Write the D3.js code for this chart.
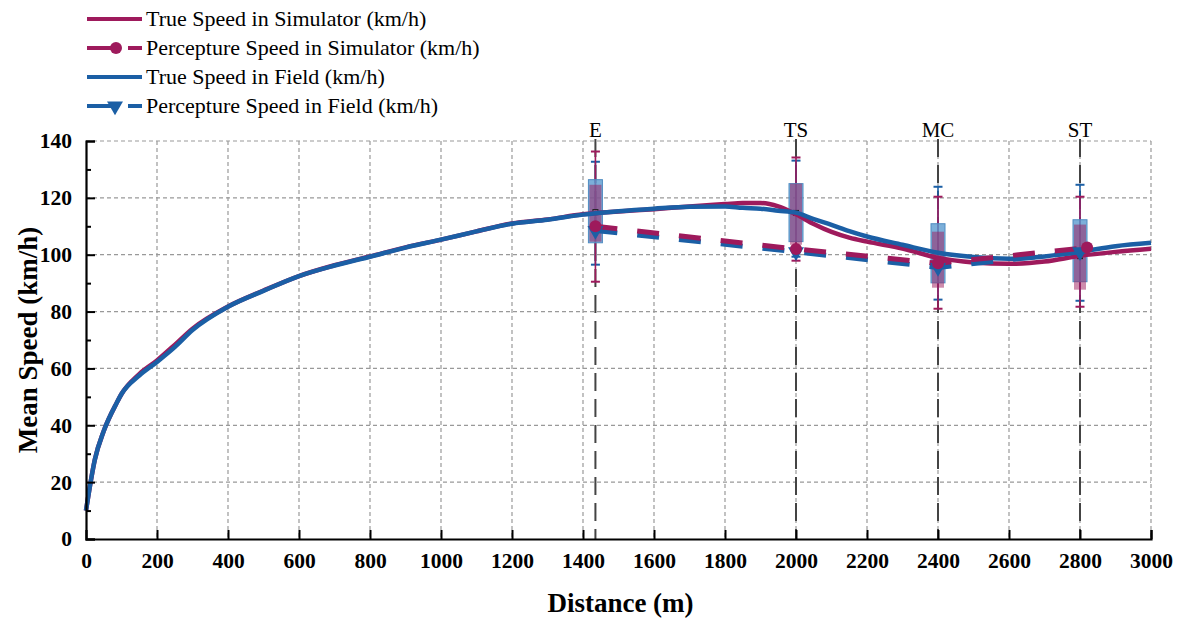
<!DOCTYPE html>
<html>
<head>
<meta charset="utf-8">
<script src="https://cdn.jsdelivr.net/npm/d3@7"></script>
<style>
    body { margin: 0; background: #fff; }
    svg text { font-family: "Liberation Serif", "Times New Roman", serif; fill: #000; }
    .tick-lab { font-size: 21.5px; font-weight: bold; }
    .axis-title { font-size: 27px; font-weight: bold; }
    .legend text { font-size: 22px; }
    .site { font-size: 21px; }
</style>
</head>
<body>
<svg width="1194" height="618"></svg>
<script>
// distance (m) along the road
var distance = [0, 25, 50, 87, 100, 150, 200, 250, 300, 400, 500, 600, 700, 800, 900, 1000,
    1100, 1200, 1300, 1400, 1500, 1600, 1700, 1800, 1850, 1900, 1950, 2000, 2050, 2100,
    2150, 2200, 2300, 2400, 2500, 2600, 2700, 2800, 2900, 3000];

var trueSim = [10, 28, 38, 48, 51, 58, 62.8, 68.3, 74, 81.8, 87.4, 92.5, 96.3, 99.4, 102.6, 105.3,
    108.2, 111, 112.4, 114.2, 115.2, 116, 117, 117.8, 118.2, 118.2, 117, 114.2, 110.8, 108,
    106, 104.6, 102.2, 98.9, 97.3, 96.8, 97.6, 99.6, 101, 102.1];

var trueField = [10, 28, 38, 48, 51, 57.5, 62.3, 67.5, 73.5, 81.7, 87.3, 92.5, 96.2, 99.3, 102.5, 105.3,
    108.2, 110.9, 112.3, 114.1, 115.3, 116.2, 116.9, 117, 116.5, 116.2, 115.5, 114.8, 112.5, 110.5,
    108.3, 106.4, 103.5, 100.7, 99.2, 98.6, 99.4, 101, 103, 104.2];

// survey sites
var sites = ["E", "TS", "MC", "ST"];
var siteDist = [1435, 2000, 2400, 2800];

var perceivedSim = [110, 102, 97, 102.5];
var perceivedField = [108.5, 101, 95.5, 101];
var perceivedSimDist = [1435, 2000, 2400, 2820];

// box stats per site: whisker low, q1, q3, whisker high
var boxSimLow = [90.5, 97.9, 81, 81.7];
var boxSimQ1 = [104.6, 103.5, 88.4, 87.7];
var boxSimQ3 = [124.6, 125, 108.1, 110.6];
var boxSimHigh = [136.3, 134.2, 120.4, 120.4];

var boxFieldLow = [96.5, 99.3, 84.2, 83.8];
var boxFieldQ1 = [104.2, 104.6, 90.1, 90.5];
var boxFieldQ3 = [126.4, 125, 110.9, 112.3];
var boxFieldHigh = [132.7, 133.1, 123.9, 124.6];

var boxMean = [115, 114.7, 98.3, 99.5];

var xTicks = d3.range(0, 3001, 200);
var yTicks = d3.range(0, 141, 20);

var legendLabels = ["True Speed in Simulator (km/h)", "Percepture Speed in Simulator (km/h)",
    "True Speed in Field (km/h)", "Percepture Speed in Field (km/h)"];

var colSim = "#9e1a5c";
var colField = "#1b5fa5";

var svg = d3.select("svg");
var mLeft = 86, mRight = 1151, mTop = 141, mBottom = 539;

var x = d3.scaleLinear().domain([0, 3000]).range([mLeft, mRight]);
var y = d3.scaleLinear().domain([0, 140]).range([mBottom, mTop]);

// grid
var grid = svg.append("g");
grid.selectAll(".gy").data(yTicks.filter(function (d) { return d > 0; }))
    .enter().append("line")
    .attr("x1", mLeft).attr("x2", mRight)
    .attr("y1", function (d) { return y(d); }).attr("y2", function (d) { return y(d); })
    .attr("stroke", "#999").attr("stroke-width", 1.2).attr("stroke-dasharray", "4,3");
grid.selectAll(".gx").data(xTicks.filter(function (d) { return d > 0; }))
    .enter().append("line")
    .attr("y1", mTop).attr("y2", mBottom)
    .attr("x1", function (d) { return x(d); }).attr("x2", function (d) { return x(d); })
    .attr("stroke", "#999").attr("stroke-width", 1.2).attr("stroke-dasharray", "4,3");

// site lines + labels
svg.selectAll(".siteLine").data(siteDist).enter().append("line")
    .attr("x1", function (d) { return x(d); }).attr("x2", function (d) { return x(d); })
    .attr("y1", mTop - 2).attr("y2", mBottom)
    .attr("stroke", "#444").attr("stroke-width", 2).attr("stroke-dasharray", "18,8");
svg.selectAll(".siteLab").data(sites).enter().append("text")
    .attr("class", "site")
    .attr("x", function (d, i) { return x(siteDist[i]); })
    .attr("y", mTop - 4)
    .attr("text-anchor", "middle")
    .text(function (d) { return d; });

// boxes
var bw = 14, bwSim = 12, capW = 9;
function whisker(lo, hi, col) {
    var g = svg.append("g");
    siteDist.forEach(function (d, i) {
        g.append("line").attr("x1", x(d)).attr("x2", x(d))
            .attr("y1", y(lo[i])).attr("y2", y(hi[i]))
            .attr("stroke", col).attr("stroke-width", 1.6);
        [lo[i], hi[i]].forEach(function (v) {
            g.append("line").attr("x1", x(d) - capW / 2).attr("x2", x(d) + capW / 2)
                .attr("y1", y(v)).attr("y2", y(v))
                .attr("stroke", col).attr("stroke-width", 2);
        });
    });
}
whisker(boxFieldLow, boxFieldHigh, colField);
whisker(boxSimLow, boxSimHigh, colSim);

svg.selectAll(".boxF").data(siteDist).enter().append("rect")
    .attr("x", function (d) { return x(d) - bw / 2; })
    .attr("width", bw)
    .attr("y", function (d, i) { return y(boxFieldQ3[i]); })
    .attr("height", function (d, i) { return y(boxFieldQ1[i]) - y(boxFieldQ3[i]); })
    .attr("fill", "#5b9bd0").attr("fill-opacity", 0.8)
    .attr("stroke", "#4f8cc2").attr("stroke-width", 1);
svg.selectAll(".boxS").data(siteDist).enter().append("rect")
    .attr("x", function (d) { return x(d) - bwSim / 2; })
    .attr("width", bwSim)
    .attr("y", function (d, i) { return y(boxSimQ3[i]); })
    .attr("height", function (d, i) { return y(boxSimQ1[i]) - y(boxSimQ3[i]); })
    .attr("fill", colSim).attr("fill-opacity", 0.5);
svg.selectAll(".mean").data(siteDist).enter().append("rect")
    .attr("x", function (d) { return x(d) - 2.5; })
    .attr("y", function (d, i) { return y(boxMean[i]) - 2.5; })
    .attr("width", 5).attr("height", 5)
    .attr("fill", "none").attr("stroke", "#222").attr("stroke-width", 1);

// true speed curves
var line = d3.line()
    .x(function (d, i) { return x(distance[i]); })
    .y(function (d) { return y(d); })
    .curve(d3.curveMonotoneX);
svg.append("path").datum(trueSim).attr("d", line)
    .attr("fill", "none").attr("stroke", colSim).attr("stroke-width", 4.5);
svg.append("path").datum(trueField).attr("d", line)
    .attr("fill", "none").attr("stroke", colField).attr("stroke-width", 4.5);

// perceived speed
var pLineSim = d3.line()
    .x(function (d, i) { return x(perceivedSimDist[i]); })
    .y(function (d) { return y(d); });
var pLineField = d3.line()
    .x(function (d, i) { return x(siteDist[i]); })
    .y(function (d) { return y(d); });
svg.append("path").datum(perceivedField).attr("d", pLineField)
    .attr("fill", "none").attr("stroke", colField).attr("stroke-width", 5)
    .attr("stroke-dasharray", "22,20");
svg.append("path").datum(perceivedSim).attr("d", pLineSim)
    .attr("fill", "none").attr("stroke", colSim).attr("stroke-width", 5)
    .attr("stroke-dasharray", "22,20");

var tri = d3.symbol().type(d3.symbolTriangle).size(110);
svg.selectAll(".triF").data(perceivedField).enter().append("path")
    .attr("d", tri)
    .attr("transform", function (d, i) { return "translate(" + x(siteDist[i]) + "," + y(d) + ") rotate(180)"; })
    .attr("fill", colField);
svg.selectAll(".dotS").data(perceivedSim).enter().append("circle")
    .attr("cx", function (d, i) { return x(perceivedSimDist[i]); })
    .attr("cy", function (d) { return y(d); })
    .attr("r", 6).attr("fill", colSim);

// axes
var yAxis = d3.axisLeft(y).tickValues(yTicks).tickSize(-9).tickPadding(14).tickFormat(d3.format("d"));
var yMinor = d3.axisLeft(y).tickValues(d3.range(10, 140, 20)).tickSize(-5).tickFormat("");
var xAxis = d3.axisBottom(x).tickValues(xTicks).tickSize(-9).tickPadding(14).tickFormat(d3.format("d"));

var gy = svg.append("g").attr("transform", "translate(" + mLeft + ",0)").call(yAxis);
svg.append("g").attr("transform", "translate(" + mLeft + ",0)").call(yMinor)
    .call(function (g) { g.select(".domain").remove(); });
var gx = svg.append("g").attr("transform", "translate(0," + mBottom + ")").call(xAxis);

svg.selectAll(".tick line").attr("stroke", "#000").attr("stroke-width", 2);
[gy, gx].forEach(function (g) {
    g.select(".domain").attr("stroke", "#000").attr("stroke-width", 2.2);
    g.selectAll(".tick text").attr("class", "tick-lab")
        .attr("font-family", null).attr("font-size", null);
});
gx.selectAll(".tick").filter(function (d) { return d === 0; }).select("line").remove();

svg.append("text").attr("class", "axis-title")
    .attr("x", (mLeft + mRight) / 2 + 2).attr("y", 612)
    .attr("text-anchor", "middle")
    .text("Distance (m)");
svg.append("text").attr("class", "axis-title")
    .attr("transform", "translate(37," + ((mTop + mBottom) / 2) + ") rotate(-90)")
    .attr("text-anchor", "middle")
    .text("Mean Speed (km/h)");

// legend
var legY = [19, 48, 77, 106];
var lg = svg.append("g").attr("class", "legend");
legendLabels.forEach(function (lab, i) {
    var col = i < 2 ? colSim : colField;
    var yy = legY[i];
    if (i % 2 === 0) {
        lg.append("line").attr("x1", 87).attr("x2", 142).attr("y1", yy).attr("y2", yy)
            .attr("stroke", col).attr("stroke-width", 4);
    } else {
        lg.append("line").attr("x1", 87).attr("x2", 117).attr("y1", yy).attr("y2", yy)
            .attr("stroke", col).attr("stroke-width", 4);
        lg.append("line").attr("x1", 128).attr("x2", 142).attr("y1", yy).attr("y2", yy)
            .attr("stroke", col).attr("stroke-width", 4);
        if (i === 1) {
            lg.append("circle").attr("cx", 116).attr("cy", yy).attr("r", 6).attr("fill", col);
        } else {
            lg.append("path").attr("d", tri)
                .attr("transform", "translate(115," + yy + ") rotate(180)").attr("fill", col);
        }
    }
    lg.append("text").attr("x", 146).attr("y", yy + 7).text(lab);
});
</script>
</body>
</html>
